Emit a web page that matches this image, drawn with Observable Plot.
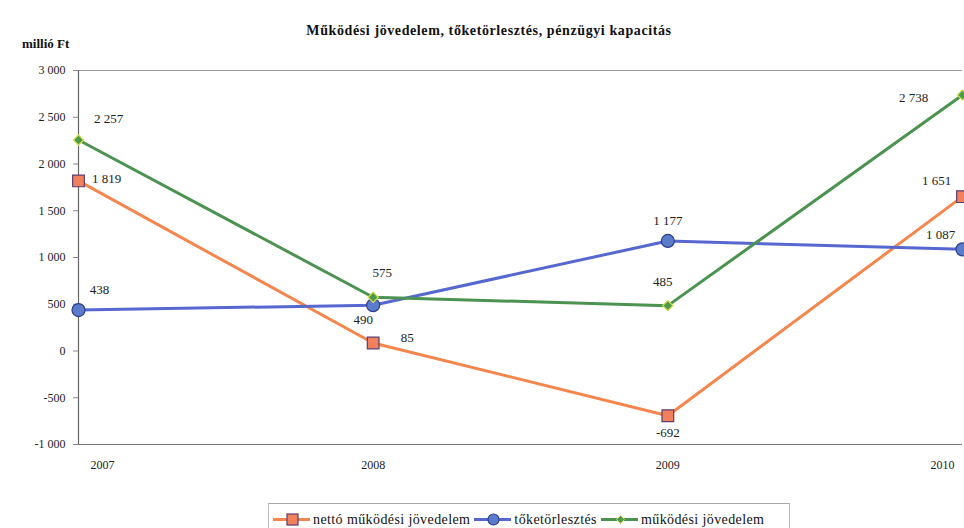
<!DOCTYPE html>
<html><head><meta charset="utf-8">
<script src="https://cdn.jsdelivr.net/npm/d3@7"></script>
<script src="https://cdn.jsdelivr.net/npm/@observablehq/plot@0.6"></script>
<style>
body{margin:0;background:#fff;font-family:"Liberation Serif","DejaVu Serif","Times New Roman",Times,serif;color:#111;}
#wrap{position:relative;width:964px;height:528px;overflow:hidden;}
#head{position:relative;height:55px;}
#title{position:absolute;left:0;width:978px;top:23px;text-align:center;font-weight:bold;font-size:14px;letter-spacing:0.6px;white-space:nowrap;}
#unit{position:absolute;left:22px;top:36px;font-weight:bold;font-size:13px;}
#chart svg{display:block;}
#legend{position:absolute;left:268px;top:503px;width:522px;height:30px;border-top:1px solid #aaa;border-left:1px solid #bbb;border-right:1px solid #bbb;box-sizing:border-box;display:flex;align-items:center;padding-left:4px;font-size:14px;letter-spacing:0.4px;white-space:nowrap;padding-top:2px;}
#legend .item{display:flex;align-items:center;margin-right:4px;}
#legend svg{margin-right:3px;}
</style>
</head><body>
<div id="wrap">
  <div id="head"><div id="unit">millió Ft</div><div id="title">Működési jövedelem, tőketörlesztés, pénzügyi kapacitás</div></div>
  <div id="chart"></div>
  <div id="legend"></div>
</div>
<script>
const years = [2007, 2008, 2009, 2010];
const seriesNames = ["nettó működési jövedelem", "tőketörlesztés", "működési jövedelem"];
const nettoMukodesi = [1819, 85, -692, 1651];
const toketorlesztes = [438, 490, 1177, 1087];
const mukodesi = [2257, 575, 485, 2738];
const yTicks = [-1000, -500, 0, 500, 1000, 1500, 2000, 2500, 3000];

// styles (not data)
const styles = [
  {line:"#F5864E", fill:"#F2805E", edge:"#5A3F6E", symbol:"square", r:6.6},
  {line:"#5667CF", fill:"#5B7CCB", edge:"#2D3E8C", symbol:"circle", r:6.5},
  {line:"#4C9250", fill:"#4C9A4C", edge:"#D8E04A", symbol:"diamond2", r:4.6}
];
// label offsets [dx, dy] per point
const labelOffsets = [
  [[28,-2],[34,-5],[0,17],[-26,-16]],
  [[21,-20],[-10,15],[0,-20],[-22,-15]],
  [[30,-21],[9,-24],[-5,-24],[-49,3]]
];

const FONT = "'Liberation Serif','DejaVu Serif','Times New Roman',Times,serif";
const loc = d3.formatLocale({decimal:",", thousands:"\u00a0", grouping:[3], currency:["",""], minus:"-"});
const fmt = loc.format(",d");

const allValues = [nettoMukodesi, toketorlesztes, mukodesi];
const rows = [];
allValues.forEach((vals, s) => vals.forEach((v, i) => rows.push({series: seriesNames[s], s, year: years[i], value: v, i})));

const marks = [
  Plot.ruleY([3000], {stroke:"#9a9a9a", strokeWidth:1}),
  Plot.ruleY([-1000], {stroke:"#777", strokeWidth:1.2}),
  Plot.ruleX([2007], {stroke:"#666", strokeWidth:1.2}),
  Plot.axisY({ticks: yTicks, tickFormat: fmt, tickSize: 5, tickPadding: 8, label: null, fontSize: 12, stroke:"#888"}),
  Plot.axisX({ticks: [2008, 2009], tickSize: 0, tickPadding: 16, tickFormat: d => String(d), label: null, fontSize: 12}),
  Plot.axisX({ticks: [2007], tickSize: 0, tickPadding: 16, tickFormat: d => String(d), label: null, fontSize: 12, textAnchor: "start", dx: 12}),
  Plot.axisX({ticks: [2010], tickSize: 0, tickPadding: 16, tickFormat: d => String(d), label: null, fontSize: 12, textAnchor: "end", dx: -8})
];
[0,1,2].forEach(s => {
  const st = styles[s];
  const d = rows.filter(r => r.s === s);
  marks.push(Plot.line(d, {x:"year", y:"value", stroke: st.line, strokeWidth: 3}));
});
[0,1,2].forEach(s => {
  const st = styles[s];
  const d = rows.filter(r => r.s === s);
  marks.push(Plot.dot(d, {x:"year", y:"value", symbol: st.symbol, r: st.r, fill: st.fill, stroke: st.edge, strokeWidth: 1.2}));
});
rows.forEach(r => {
  const [dx, dy] = labelOffsets[r.s][r.i];
  marks.push(Plot.text([r], {x:"year", y:"value", text: d => fmt(d.value), dx, dy, fontSize: 13, fill:"#222"}));
});

const chart = Plot.plot({
  width: 964, height: 429,
  marginLeft: 78, marginRight: 2, marginTop: 15, marginBottom: 40,
  x: {type:"linear", domain:[2007, 2010]},
  y: {domain:[-1000, 3000]},
  style: {fontFamily: FONT, fontSize:"12px", color:"#222", background:"transparent"},
  marks
});
chart.setAttribute("font-family", FONT);
document.getElementById("chart").appendChild(chart);

const legend = document.getElementById("legend");
seriesNames.forEach((name, s) => {
  const st = styles[s];
  const item = document.createElement("div");
  item.className = "item";
  let sym = "";
  if (st.symbol === "square") sym = `<rect x="14" y="3" width="11" height="11" fill="${st.fill}" stroke="${st.edge}" stroke-width="1.2"/>`;
  else if (st.symbol === "circle") sym = `<circle cx="19.5" cy="8.5" r="5.5" fill="${st.fill}" stroke="${st.edge}" stroke-width="1.2"/>`;
  else sym = `<path d="M19.5,4.5 L23.5,8.5 L19.5,12.5 L15.5,8.5Z" fill="${st.fill}" stroke="${st.edge}" stroke-width="1"/>`;
  item.innerHTML = `<svg width="37" height="17"><line x1="0" y1="8.5" x2="37" y2="8.5" stroke="${st.line}" stroke-width="3"/>${sym}</svg><span>${name}</span>`;
  legend.appendChild(item);
});
</script>
</body></html>
